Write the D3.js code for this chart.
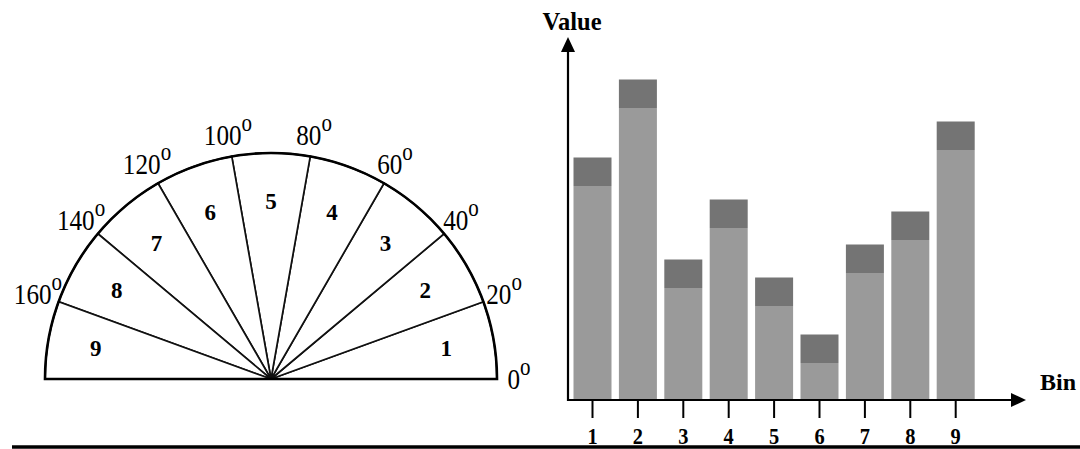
<!DOCTYPE html>
<html>
<head>
<meta charset="utf-8">
<script src="https://cdn.jsdelivr.net/npm/d3@7"></script>
<style>
  html, body { margin: 0; padding: 0; background: #ffffff; }
  svg { display: block; }
  text { font-family: "Liberation Serif", "Times New Roman", serif; fill: #000; }
</style>
</head>
<body>
<script>
// ---------- data ----------
const bins = [1, 2, 3, 4, 5, 6, 7, 8, 9];
const sectorEdges = [0, 20, 40, 60, 80, 100, 120, 140, 160, 180];
const angleLabels = ["0", "20", "40", "60", "80", "100", "120", "140", "160"];
const baseValues = [71, 97, 37, 57, 31, 12, 42, 53, 83];
const capValues = [9.5, 9.5, 9.5, 9.5, 9.5, 9.5, 9.5, 9.5, 9.5];
const binTickLabels = ["1", "2", "3", "4", "5", "6", "7", "8", "9"];
const yAxisTitle = "Value";
const xAxisTitle = "Bin";

// ---------- canvas ----------
const W = 1080, H = 449;
const svg = d3.select("body").append("svg").attr("width", W).attr("height", H);

// ---------- semicircle (protractor) ----------
const cx = 271, cy = 379, R = 226;
const g1 = svg.append("g").attr("transform", `translate(${cx},${cy})`);
// d3 arc angle: 0 at 12 o'clock, clockwise
const ang = d3.scaleLinear().domain([0, 180]).range([Math.PI / 2, -Math.PI / 2]);
const rad = d3.scaleLinear().domain([0, 180]).range([0, Math.PI]);
const pt = (deg, r) => [r * Math.cos(rad(deg)), -r * Math.sin(rad(deg))];

const sectors = bins.map((b, i) => ({ bin: b, a0: sectorEdges[i], a1: sectorEdges[i + 1] }));
const arc = d3.arc().innerRadius(0).outerRadius(R)
  .startAngle(d => ang(d.a1)).endAngle(d => ang(d.a0));

g1.selectAll("path.sector").data(sectors).join("path")
  .attr("class", "sector")
  .attr("d", arc)
  .attr("fill", "#fff")
  .attr("stroke", "#111")
  .attr("stroke-width", 1.7)
  .attr("stroke-linejoin", "miter");

// outer outline (arc + baseline)
g1.append("path")
  .attr("d", d3.arc().innerRadius(0).outerRadius(R)({ startAngle: -Math.PI / 2, endAngle: Math.PI / 2 }))
  .attr("fill", "none")
  .attr("stroke", "#000")
  .attr("stroke-width", 2.6);

// sector numbers
g1.selectAll("text.secnum").data(sectors).join("text")
  .attr("class", "secnum")
  .attr("x", d => pt((d.a0 + d.a1) / 2, 178)[0])
  .attr("y", d => pt((d.a0 + d.a1) / 2, 178)[1])
  .attr("dy", "0.35em")
  .attr("text-anchor", "middle")
  .attr("font-weight", "bold")
  .attr("font-size", 23)
  .text(d => d.bin);

// angle labels
const angLab = g1.selectAll("text.anglab").data(angleLabels).join("text")
  .attr("class", "anglab")
  .attr("transform", (d, i) => {
    const p = pt(sectorEdges[i], R + 22);
    return `translate(${p[0]},${p[1] + 10}) scale(0.84,1)`;
  })
  .attr("text-anchor", "middle")
  .attr("font-size", 30);
angLab.append("tspan").text(d => d);
angLab.append("tspan").attr("font-size", 25).attr("dy", -14).text("o");

// ---------- bar chart ----------
const x = d3.scaleBand().domain(bins).range([569.8, 978.4]).paddingInner(0.163).paddingOuter(0.0815);
const y = d3.scaleLinear().domain([0, 120]).range([399, 39]);

const g2 = svg.append("g");
g2.selectAll("rect.base").data(bins).join("rect")
  .attr("class", "base")
  .attr("x", d => x(d))
  .attr("width", x.bandwidth())
  .attr("y", (d, i) => y(baseValues[i]))
  .attr("height", (d, i) => y(0) - y(baseValues[i]))
  .attr("fill", "#9a9a9a");
g2.selectAll("rect.cap").data(bins).join("rect")
  .attr("class", "cap")
  .attr("x", d => x(d))
  .attr("width", x.bandwidth())
  .attr("y", (d, i) => y(baseValues[i] + capValues[i]))
  .attr("height", (d, i) => y(baseValues[i]) - y(baseValues[i] + capValues[i]))
  .attr("fill", "#747474");

// axes
const axisY = 400, axisX = 568;
const xAxis = d3.axisBottom(x).tickSize(18).tickSizeOuter(0).tickFormat((d, i) => binTickLabels[i]);
const gx = svg.append("g").attr("transform", `translate(0,${axisY})`).call(xAxis);
gx.select(".domain").remove();
gx.selectAll(".tick line").attr("stroke", "#000").attr("stroke-width", 2);
gx.selectAll(".tick text")
  .attr("y", 44).attr("dy", 0)
  .attr("transform", "scale(0.85,1)")
  .attr("font-family", "\"Liberation Serif\", \"Times New Roman\", serif")
  .attr("font-size", 24)
  .attr("font-weight", "bold")
  .attr("fill", "#000");

// axis lines with arrows
svg.append("line").attr("x1", axisX - 1).attr("x2", 1012).attr("y1", axisY).attr("y2", axisY)
  .attr("stroke", "#000").attr("stroke-width", 2.2);
svg.append("path").attr("d", `M1026,${axisY} L1011,${axisY - 7} L1011,${axisY + 7} Z`).attr("fill", "#000");
svg.append("line").attr("x1", axisX).attr("x2", axisX).attr("y1", axisY + 1).attr("y2", 50)
  .attr("stroke", "#000").attr("stroke-width", 2.2);
svg.append("path").attr("d", `M${axisX},37 L${axisX - 7},52 L${axisX + 7},52 Z`).attr("fill", "#000");

svg.append("text").attr("x", 542.5).attr("y", 29.5)
  .attr("font-size", 24.5).attr("font-weight", "bold").text(yAxisTitle);
svg.append("text").attr("x", 1040).attr("y", 390)
  .attr("font-size", 24).attr("font-weight", "bold").text(xAxisTitle);

// bottom rule
svg.append("line").attr("x1", 12).attr("x2", 1080).attr("y1", 447).attr("y2", 447)
  .attr("stroke", "#000").attr("stroke-width", 3.5);
</script>
</body>
</html>
